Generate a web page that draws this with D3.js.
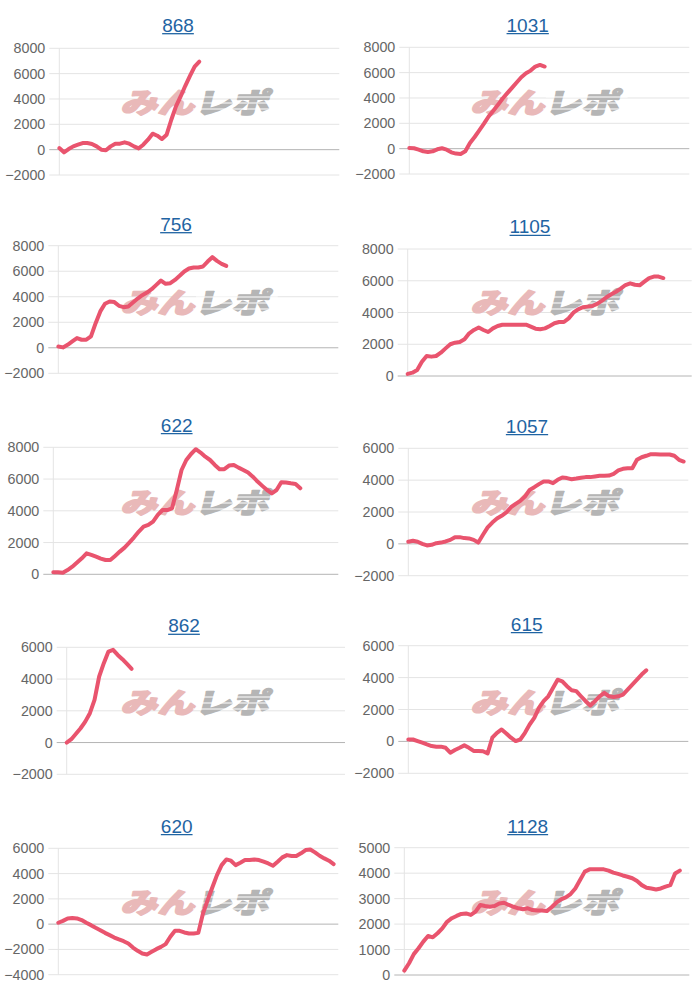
<!DOCTYPE html>
<html><head><meta charset="utf-8">
<script src="https://cdn.jsdelivr.net/npm/d3@7"></script>
<style>body{margin:0;background:#fff}svg{display:block}</style>
</head><body>
<svg id="c" width="700" height="1000"></svg>
<script>
// ---- data ----
const titles = ["868", "1031", "756", "1105", "622", "1057", "862", "615", "620", "1128"];
const ticksA = [-2000, 0, 2000, 4000, 6000, 8000];
const ticksB = [0, 2000, 4000, 6000, 8000];
const ticksC = [-2000, 0, 2000, 4000, 6000];
const ticksD = [-4000, -2000, 0, 2000, 4000, 6000];
const ticksE = [0, 1000, 2000, 3000, 4000, 5000];
const slots = 60;

const s868 = [130,-210,50,260,390,520,520,450,260,0,-50,260,470,470,580,470,260,100,390,790,1260,1100,840,1180,2360,3410,4200,5040,5820,6560,6950];
const s1031 = [50,30,-80,-210,-260,-210,-50,30,-80,-290,-390,-420,-210,450,920,1440,1970,2540,3000,3460,3960,4380,4800,5220,5640,5950,6160,6480,6610,6480];
const s756 = [100,30,230,500,760,630,630,890,1930,2850,3450,3630,3580,3290,3180,3240,3550,3860,4120,4330,4590,4930,5270,5010,5060,5320,5640,5980,6210,6290,6290,6370,6760,7100,6810,6580,6420];
const s1105 = [130,210,380,900,1260,1220,1260,1470,1740,2000,2100,2140,2310,2690,2900,3050,2900,2770,3000,3150,3230,3230,3230,3230,3230,3230,3110,2980,2940,3000,3150,3320,3400,3400,3630,3990,4200,4330,4370,4410,4540,4730,4960,5150,5310,5500,5730,5840,5750,5710,5940,6170,6260,6260,6170];
const s622 = [130,130,100,270,480,740,1010,1320,1220,1110,990,900,900,1160,1430,1680,2000,2330,2690,3000,3110,3320,3740,4050,4050,4160,5310,6570,7200,7580,7880,7670,7410,7200,6890,6620,6620,6850,6890,6720,6570,6410,6150,5840,5570,5310,5100,5310,5800,5780,5730,5690,5420];
const s1057 = [130,190,130,0,-100,-60,40,80,150,250,420,420,360,340,250,80,570,1030,1340,1590,1760,1970,2300,2510,2700,2970,3390,3560,3750,3920,3920,3810,4020,4170,4130,4060,4100,4150,4190,4190,4230,4270,4270,4290,4400,4610,4710,4750,4750,5280,5440,5530,5630,5630,5610,5610,5610,5530,5280,5170];
const s862 = [0,210,550,900,1320,1850,2690,4160,5000,5730,5840,5520,5250,4950,4640];
const s615 = [120,120,20,-80,-190,-290,-330,-330,-400,-710,-540,-400,-250,-400,-600,-600,-620,-750,230,540,750,500,230,20,120,540,1060,1480,2100,2520,2830,3350,3870,3770,3460,3210,3150,2830,2520,2250,2520,2830,3040,2830,2790,2830,2940,3250,3560,3870,4190,4460];
const s620 = [110,260,450,480,450,320,110,-80,-290,-480,-690,-870,-1060,-1210,-1350,-1530,-1850,-2110,-2320,-2400,-2190,-1980,-1800,-1580,-1000,-530,-530,-660,-740,-740,-690,840,1900,2900,3880,4670,5120,5020,4670,4860,5070,5070,5120,5070,4940,4800,4620,4940,5280,5460,5390,5390,5600,5860,5910,5680,5410,5200,5020,4750];
const s1128 = [170,460,820,1050,1310,1530,1480,1640,1830,2090,2230,2320,2400,2420,2360,2490,2750,2710,2680,2710,2810,2840,2750,2680,2620,2580,2620,2550,2530,2530,2510,2660,2840,2970,3050,3180,3400,3730,4060,4150,4150,4150,4150,4100,4020,3970,3910,3860,3800,3690,3530,3430,3400,3360,3400,3470,3530,3990,4100];

const series = [s868, s1031, s756, s1105, s622, s1057, s862, s615, s620, s1128];
const tickSets = [ticksA, ticksA, ticksA, ticksB, ticksB, ticksC, ticksC, ticksC, ticksD, ticksE];

// ---- layout (positions only) ----
const layout = [
  {l:59.3, r:339.3, t:48.3, b:175,   tx:178,   ty:31.7},
  {l:409.3,r:689.3, t:47.3, b:174,   tx:527.7, ty:31.7},
  {l:58.3, r:338.3, t:245.7,b:373.3, tx:176,   ty:230.7},
  {l:407.7,r:691.7, t:249,  b:376,   tx:530,   ty:233.3},
  {l:53.3, r:338.3, t:447.3,b:574.3, tx:176.7, ty:431.7},
  {l:408.3,r:688.3, t:448.3,b:575.7, tx:527,   ty:432.7},
  {l:66.7, r:345,   t:647.3,b:774.3, tx:184,   ty:632.3},
  {l:408.3,r:688.3, t:645.7,b:773.3, tx:526.7, ty:630.7},
  {l:58.3, r:338.3, t:848.3,b:974.7, tx:176.7, ty:832.7},
  {l:404.3,r:689.3, t:847.7,b:975,   tx:527.7, ty:832.7}
];
const panelOrigins = [[0,0],[350,0],[0,200],[350,200],[0,400],[350,400],[0,600],[350,600],[0,800],[350,800]];

const svg = d3.select("#c");
const FONT = "'Liberation Sans', Arial, sans-serif";

series.forEach((data, k) => {
  const L = layout[k];
  const ticks = tickSets[k];
  const x = d3.scaleLinear().domain([0, slots]).range([L.l, L.r]);
  const y = d3.scaleLinear().domain(d3.extent(ticks)).range([L.b, L.t]);
  const g = svg.append("g");

  ticks.forEach(t => {
    g.append("line")
      .attr("x1", L.l - 10).attr("x2", L.r)
      .attr("y1", y(t)).attr("y2", y(t))
      .attr("stroke", t === 0 ? "#b4b4b4" : "#e4e4e4")
      .attr("stroke-width", 1);
  });
  g.append("line")
    .attr("x1", L.l).attr("x2", L.l)
    .attr("y1", L.t).attr("y2", L.b)
    .attr("stroke", "#e4e4e4").attr("stroke-width", 1);

  const ax = g.append("g").attr("transform", `translate(${L.l - 14},0)`)
    .call(d3.axisLeft(y).tickValues(ticks).tickSize(0).tickPadding(0).tickFormat(d3.format("d")));
  ax.select(".domain").remove();
  ax.selectAll("text").attr("fill", "#666").style("font-family", FONT).style("font-size", "14.3px");

  // watermark
  const [ox, oy] = panelOrigins[k];
  const wm = g.append("g").attr("transform", `translate(${ox + 197},${oy + 103}) skewX(-14) scale(1.32,1)`);
  const wt = wm.append("text")
    .attr("text-anchor", "middle").attr("dy", "0.36em")
    .style("font-family", "'Noto Sans CJK JP', sans-serif")
    .style("font-weight", "900").style("font-size", "28px")
    .attr("stroke-width", 1.6).attr("stroke-linejoin", "round");
  wt.append("tspan").attr("fill", "#e9b9b9").attr("stroke", "#e9b9b9").text("みん");
  wt.append("tspan").attr("fill", "#b5b5b5").attr("stroke", "#b5b5b5").text("レポ");
  // speed stripes over the gray part
  [-6, 0, 6].forEach(dy => {
    wm.append("line").attr("x1", -2).attr("x2", 60).attr("y1", dy).attr("y2", dy)
      .attr("stroke", "#fff").attr("stroke-width", 1.2);
  });

  // title
  const tt = g.append("text")
    .attr("x", L.tx).attr("y", L.ty)
    .attr("text-anchor", "middle")
    .attr("fill", "#1f64a3")
    .style("font-family", FONT).style("font-size", "19px")
    .text(titles[k]);
  const tw = tt.node().getComputedTextLength();
  g.append("line")
    .attr("x1", L.tx - tw / 2).attr("x2", L.tx + tw / 2)
    .attr("y1", L.ty + 2).attr("y2", L.ty + 2)
    .attr("stroke", "#1f64a3").attr("stroke-width", 1.3);

  // series line
  const line = d3.line().x((d, i) => x(i)).y(d => y(d));
  g.append("path").datum(data)
    .attr("d", line)
    .attr("fill", "none")
    .attr("stroke", "#e9546e")
    .attr("stroke-width", 4)
    .attr("stroke-linejoin", "round")
    .attr("stroke-linecap", "round");
});
</script>
</body></html>
